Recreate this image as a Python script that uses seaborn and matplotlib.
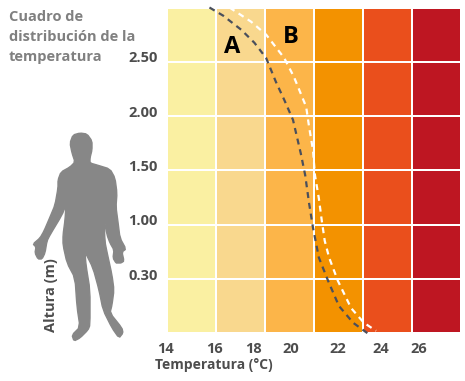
import numpy as np
import pandas as pd
import matplotlib
matplotlib.use('Agg')
import matplotlib.pyplot as plt
from matplotlib.colors import ListedColormap
from matplotlib.patches import Polygon
import seaborn as sns

# --- Chart values ---
temp_labels = ['14', '16', '18', '20', '22', '24', '26']
height_labels = ['2.50', '2.00', '1.50', '1.00', '0.30']
band_colors = ['#FAF0A2', '#F9D88E', '#FCB549', '#F39200', '#EA4F1C', '#BE1622']
band_levels = [0, 1, 2, 3, 4, 5]
n_rows = 6

# curves, in grid cells
curve_a_x = [0.86, 1.14, 1.51, 1.78, 2.02, 2.22, 2.39, 2.57, 2.73, 2.82, 2.90, 2.98, 3.10, 3.29, 3.51, 3.80, 4.12]
curve_a_y = [0.00, 0.15, 0.41, 0.65, 0.93, 1.37, 1.70, 2.07, 2.69, 3.09, 3.61, 4.06, 4.61, 5.04, 5.50, 5.81, 6.02]
curve_b_x = [1.27, 1.71, 2.02, 2.39, 2.59, 2.84, 2.90, 2.98, 3.02, 3.10, 3.16, 3.22, 3.31, 3.49, 3.76, 4.02, 4.27]
curve_b_y = [0.00, 0.26, 0.50, 0.93, 1.28, 1.83, 2.20, 2.63, 3.09, 3.52, 3.93, 4.30, 4.61, 5.04, 5.54, 5.81, 5.96]

# tick spots are not evenly spaced in the original
temp_ticks = [-0.04, 0.96, 1.76, 2.53, 3.49, 4.37, 5.14]
height_ticks = [0.91, 1.91, 2.91, 3.91, 4.93]

# human figure outline, in pixels of the picture
body_outline = [(80, 133), (87, 134), (92, 141), (92, 150), (90, 158), (90, 163), (97, 165), (110, 169),
                (115, 178), (117, 193), (116, 207), (118, 222), (120, 238), (126, 249), (122, 252), (124, 261),
                (121, 263), (118, 263), (116, 263), (113, 258), (114, 250), (110, 243), (107, 235), (104, 218),
                (105, 242), (107, 252), (112, 275), (114, 290), (112, 305), (110, 313), (122, 328), (123, 333),
                (119, 338), (112, 328), (103, 310), (99, 290), (93, 268), (85, 252), (86, 265), (90, 290),
                (90, 325), (88, 330), (80, 338), (74, 341), (72, 335), (80, 327), (77, 307), (75, 278),
                (67, 263), (63, 245), (63, 235), (65, 220), (66, 205), (62, 215), (50, 235), (47, 241),
                (45, 253), (42, 259), (38, 259), (35, 253), (36, 247), (33, 244), (40, 238), (44, 231),
                (50, 217), (55, 205), (58, 188), (58, 180), (61, 172), (70, 167), (75, 162), (72, 153),
                (70, 143), (73, 135)]


def soften(points, rounds=1):
    # corner cutting so the outline does not look like a polygon
    pts = np.array(points, dtype=float)
    for _ in range(rounds):
        nxt = np.roll(pts, -1, axis=0)
        pts = np.column_stack([0.8 * pts + 0.2 * nxt, 0.2 * pts + 0.8 * nxt]).reshape(-1, 2)
    return pts


sns.set_theme(style='white')
plt.rcParams['font.family'] = ['Open Sans', 'DejaVu Sans']

W, H = 465, 381
fig = plt.figure(figsize=(W / 100, H / 100), dpi=100)
fig.patch.set_facecolor('white')

# overlay in pixel coords for the things outside the grid
bg = fig.add_axes([0, 0, 1, 1])
bg.set_xlim(0, W)
bg.set_ylim(H, 0)
bg.axis('off')

ax = fig.add_axes([165.5 / W, 1 - 333 / H, (460.5 - 165.5) / W, (333 - 7.5) / H])
grid = pd.DataFrame(np.tile(band_levels, (n_rows, 1)))
sns.heatmap(grid, ax=ax, cmap=ListedColormap(band_colors), cbar=False,
            linewidths=1.3, linecolor='white', xticklabels=False, yticklabels=False)

ax.plot(curve_a_x, curve_a_y, color='#4A4F5C', lw=1.6, dashes=(2.7, 2.2), clip_on=False)
ax.plot(curve_b_x, curve_b_y, color='white', lw=1.6, dashes=(2.7, 2.2), clip_on=False)

ax.text(1.33, 0.73, 'A', fontsize=17, fontweight='bold', color='black', ha='center', va='center')
ax.text(2.53, 0.55, 'B', fontsize=17, fontweight='bold', color='black', ha='center', va='center')

ax.set_xticks(temp_ticks)
ax.set_xticklabels(temp_labels, fontsize=10.5, fontweight='bold', color='#4D4D4D')
ax.set_yticks(height_ticks)
ax.set_yticklabels(height_labels, fontsize=10.5, fontweight='bold', color='#4D4D4D', rotation=0)
ax.tick_params(axis='x', length=0, pad=6.5)
ax.tick_params(axis='y', length=0, pad=5.5)

bg.text(155, 365, 'Temperatura (°C)', fontsize=10, fontweight='bold', color='#4D4D4D', va='center')

for i, line in enumerate(['Cuadro de', 'distribución de la', 'temperatura']):
    bg.text(9, 17 + 20 * i, line, fontsize=10.5, fontweight='bold', color='#808080', va='center')

bg.text(51, 332, 'Altura (m)', fontsize=10.5, fontweight='bold', color='#4D4D4D',
        rotation=90, ha='center', va='bottom')

bg.add_patch(Polygon(soften(body_outline), closed=True, facecolor='#878787', edgecolor='#878787', lw=1.0))

fig.savefig('out.png', dpi=100)
